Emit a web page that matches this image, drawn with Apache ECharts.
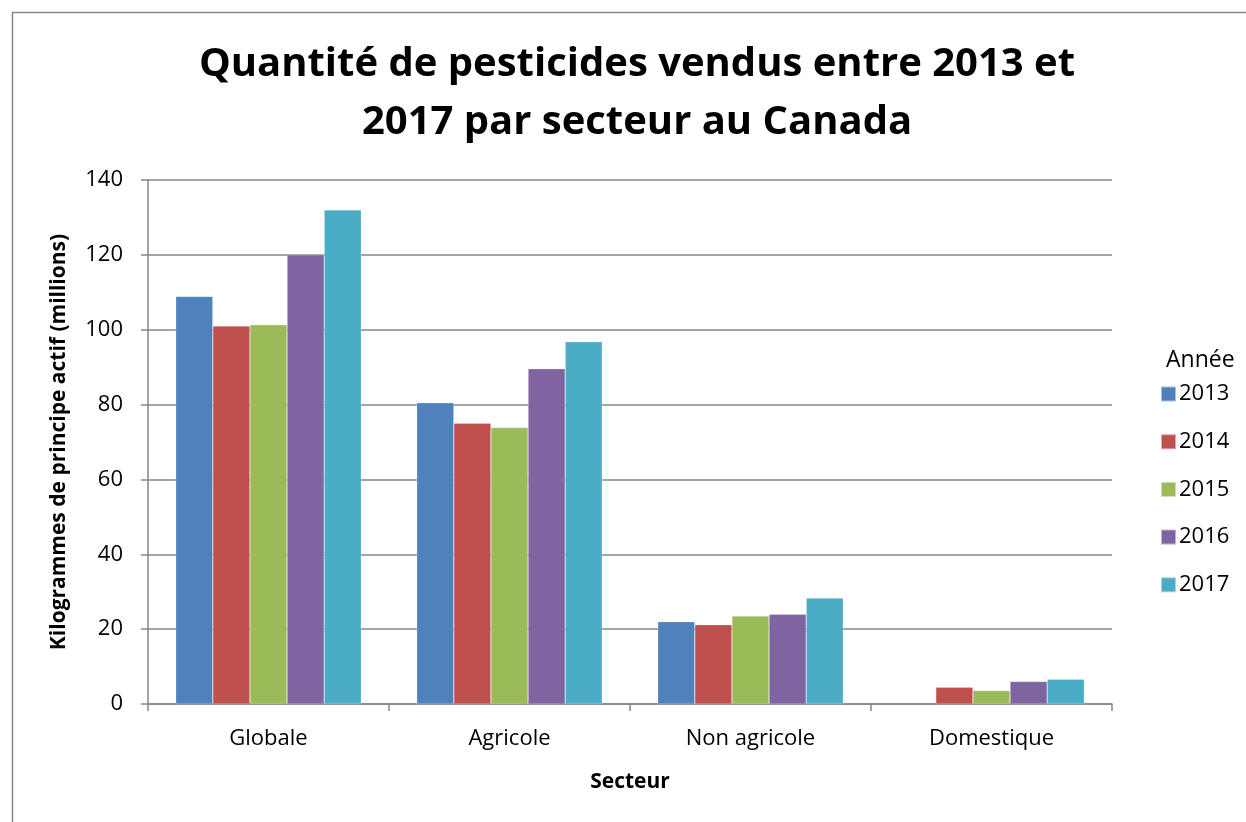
<!DOCTYPE html>
<html><head><meta charset="utf-8">
<script src="https://cdn.jsdelivr.net/npm/echarts@6/dist/echarts.min.js"></script>
<style>html,body{margin:0;padding:0;background:#fff}#c{width:1246px;height:822px}</style>
</head><body><div id="c"></div>
<script>
const categories = ['Globale', 'Agricole', 'Non agricole', 'Domestique'];
const years = ['2013', '2014', '2015', '2016', '2017'];
const v2013 = [108.9, 80.5, 22.0, null];
const v2014 = [101.0, 75.0, 21.2, 4.5];
const v2015 = [101.3, 73.9, 23.5, 3.6];
const v2016 = [120.0, 89.6, 24.0, 6.0];
const v2017 = [132.0, 96.8, 28.3, 6.6];
const yTicks = [0, 20, 40, 60, 80, 100, 120, 140];
const seriesValues = [v2013, v2014, v2015, v2016, v2017];
const colors = ['#4F81BD', '#C0504D', '#9BBB59', '#8064A2', '#4BACC6'];
const font = '"Open Sans", "Noto Sans", sans-serif';

const chart = echarts.init(document.getElementById('c'), null, {renderer: 'canvas'});
chart.setOption({
  animation: false,
  color: colors,
  title: {
    text: 'Quantité de pesticides vendus entre 2013 et\n2017 par secteur au Canada',
    left: 632, top: 31, textAlign: 'center',
    textStyle: {fontFamily: font, fontWeight: 'bold', fontSize: 40, lineHeight: 58, color: '#000'}
  },
  graphic: [
    {type: 'rect', left: 10, top: 10, shape: {width: 1250, height: 830}, style: {fill: 'none', stroke: '#868686', lineWidth: 1.5}, silent: true},
    {type: 'text', left: 1166, top: 349, style: {text: 'Année', font: '23px ' + font, fill: '#000'}}
  ],
  legend: {
    orient: 'vertical', left: 1155, top: 378, itemWidth: 15, itemHeight: 15, itemGap: 25.7,
    icon: 'rect',
    textStyle: {fontFamily: font, fontSize: 22, color: '#000', padding: [0, 0, 0, -2]},
    data: years
  },
  grid: {left: 148, right: 134, top: 180, bottom: 118},
  xAxis: {
    type: 'category', data: categories,
    name: 'Secteur', nameLocation: 'middle', nameGap: 68,
    nameTextStyle: {fontFamily: font, fontWeight: 'bold', fontSize: 21, color: '#000'},
    axisLine: {lineStyle: {color: '#868686', width: 1.5}},
    axisTick: {show: true, length: 7, lineStyle: {color: '#868686', width: 1.5}},
    axisLabel: {fontFamily: font, fontSize: 22, color: '#000', margin: 24}
  },
  yAxis: {
    type: 'value', min: 0, max: 140, interval: 20,
    name: 'Kilogrammes de principe actif (millions)', nameLocation: 'middle', nameGap: 78,
    nameTextStyle: {fontFamily: font, fontWeight: 'bold', fontSize: 21, color: '#000'},
    axisLine: {show: true, lineStyle: {color: '#868686', width: 1.5}},
    axisTick: {show: true, length: 7, lineStyle: {color: '#868686', width: 1.5}},
    axisLabel: {fontFamily: font, fontSize: 22, color: '#000', margin: 25,
      formatter: v => yTicks.includes(v) ? String(v) : ''},
    splitLine: {lineStyle: {color: '#868686', width: 1.5}}
  },
  series: years.map((y, i) => ({
    name: y, type: 'bar', data: seriesValues[i],
    barGap: '0%', barCategoryGap: '23%',
    itemStyle: {color: colors[i], borderColor: 'rgba(255,255,255,0.5)', borderWidth: 0.5}
  }))
});
</script></body></html>
